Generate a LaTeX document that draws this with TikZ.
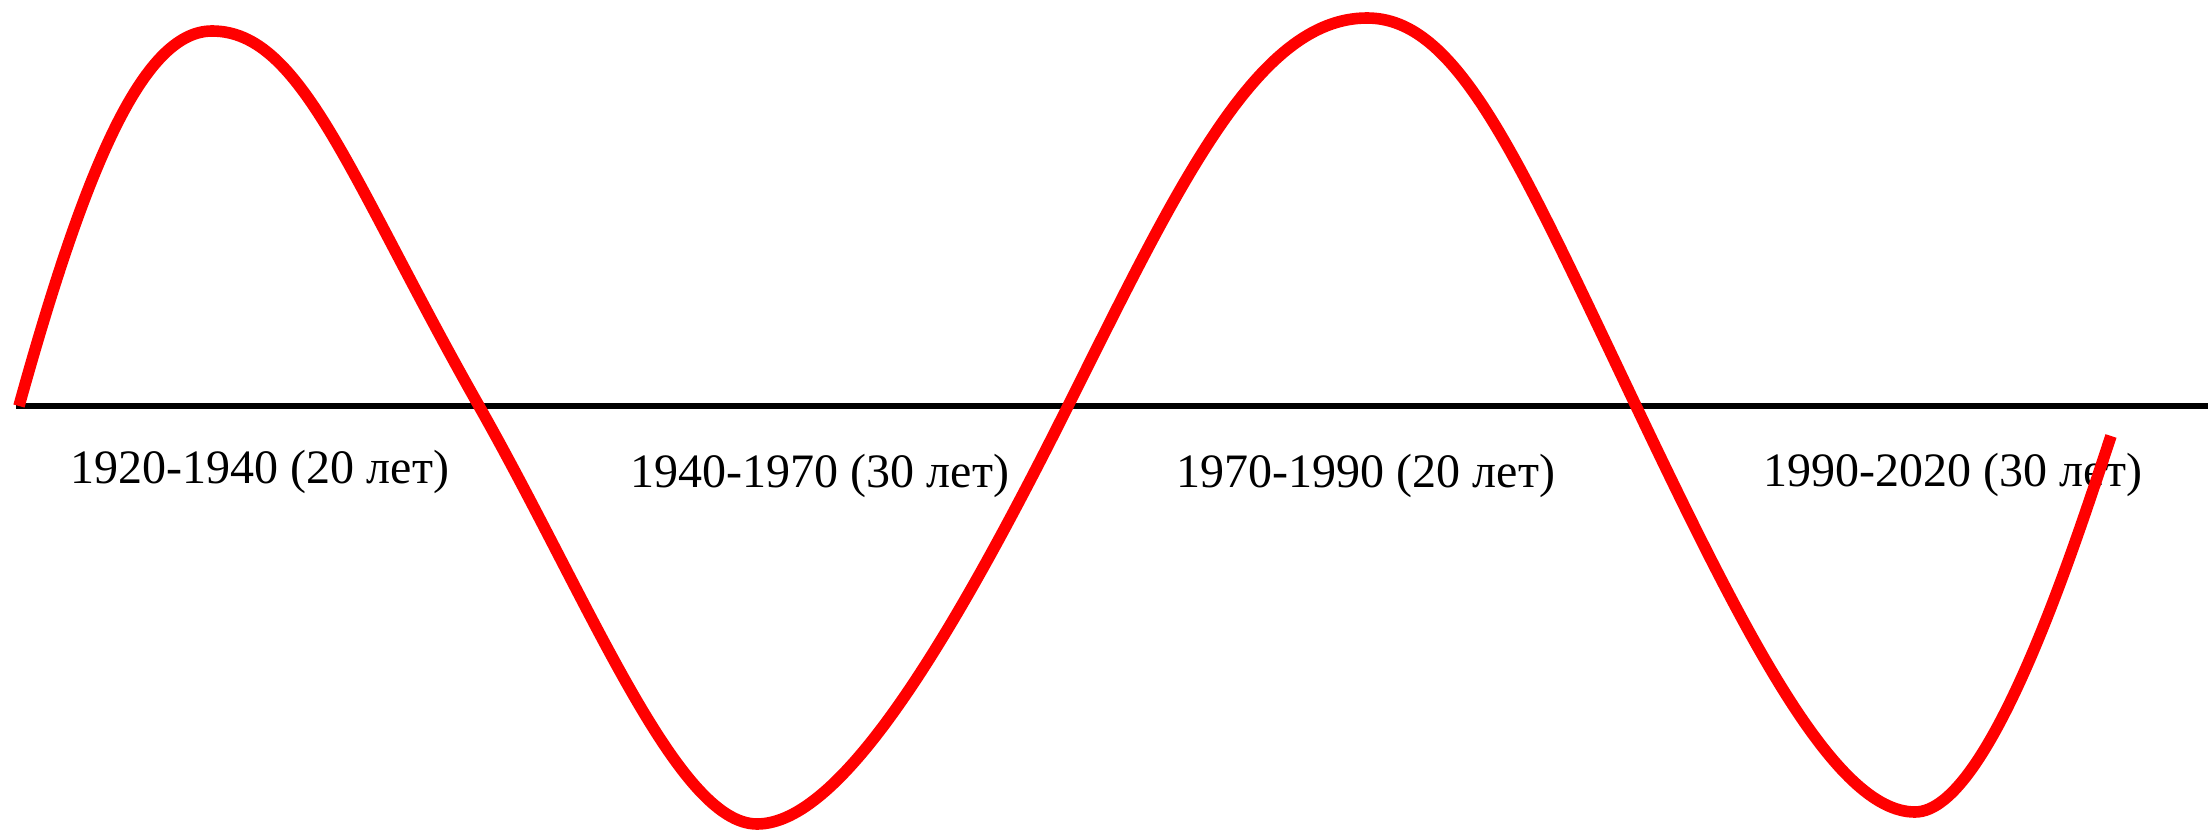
\documentclass[tikz,border=0pt]{standalone}
\usepackage{fontspec}
\setmainfont{Liberation Serif}
\begin{document}
\begin{tikzpicture}[x=0.5pt,y=-0.5pt,
  axisline/.style={line width=2.6pt,black},
  wave/.style={line width=5.8pt,red},
  period/.style={font=\fontsize{24pt}{28pt}\selectfont,anchor=base,inner sep=0pt}]
\useasboundingbox (0,0) rectangle (2208,830);
\coordinate (axL) at (16,406);
\coordinate (axR) at (2208,406);
\draw[axisline] (axL) -- (axR);
\node[period] (p1) at (260,483) {1920-1940 (20 лет)};
\node[period] (p2) at (820,487) {1940-1970 (30 лет)};
\node[period] (p3) at (1366,487) {1970-1990 (20 лет)};
\node[period] (p4) at (1953,486) {1990-2020 (30 лет)};
\coordinate (s) at (19,406);
\coordinate (pk1) at (212,31);
\coordinate (x1) at (479,406);
\coordinate (tr1) at (757,824);
\coordinate (x2) at (1068,406);
\coordinate (pk2) at (1367,18);
\coordinate (x3) at (1636,406);
\coordinate (tr2) at (1915,812);
\coordinate (e) at (2111,436);
\draw[wave] (s) .. controls (84,172) and (142,31) .. (pk1)
  .. controls (302,31) and (349,177) .. (x1)
  .. controls (589,600) and (677,824) .. (tr1)
  .. controls (840,824) and (948,646) .. (x2)
  .. controls (1178,186) and (1257,18) .. (pk2)
  .. controls (1457,18) and (1516,154) .. (x3)
  .. controls (1746,637) and (1835,812) .. (tr2)
  .. controls (1990,812) and (2076,541) .. (e);
\end{tikzpicture}
\end{document}
